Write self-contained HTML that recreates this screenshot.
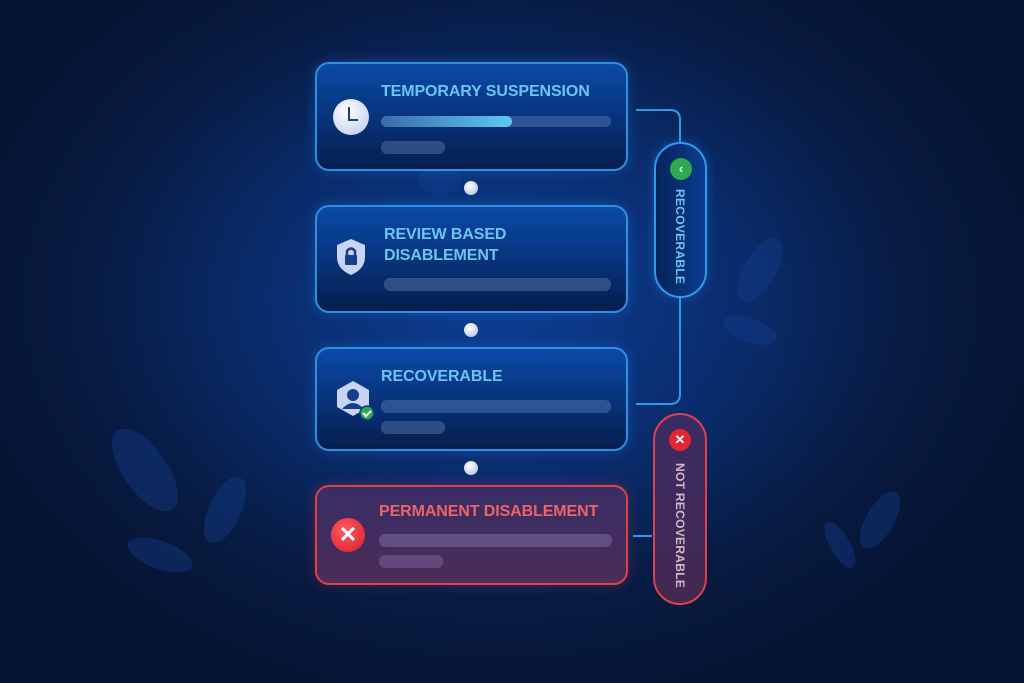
<!DOCTYPE html>
<html><head><style>
body{margin:0;width:1024px;height:683px;overflow:hidden;font-family:"Liberation Sans",sans-serif;
background:radial-gradient(ellipse 560px 420px at 500px 300px,#0d3f95 0%,#0a2b6a 45%,#071a40 75%,#061432 100%);position:relative}
.card{position:absolute;left:315px;width:313px;border:2px solid #2f8fe0;border-radius:14px;box-sizing:border-box;
background:linear-gradient(180deg,#0a4aa8 0%,#083680 45%,#061e4e 100%);box-shadow:0 0 12px rgba(40,140,255,.3)}
.t{position:absolute;color:#6cc4f4;font-weight:bold;font-size:16px;letter-spacing:-.1px;line-height:21px}
.bar{position:absolute;height:11px;border-radius:6px;background:rgba(120,150,200,.35)}
.dot{position:absolute;left:464px;width:14px;height:14px;border-radius:50%;background:radial-gradient(circle at 40% 35%,#fff,#a9b8e0)}
.pill{position:absolute;border-radius:27px;box-sizing:border-box}
.vt{position:absolute;writing-mode:vertical-rl;font-weight:bold;font-size:12px;letter-spacing:.3px}
</style></head><body>
<svg width="1024" height="683" style="position:absolute;left:0;top:0">
<g fill="#14408f" opacity=".4">
<ellipse cx="145" cy="470" rx="22" ry="48" transform="rotate(-35 145 470)"/>
<ellipse cx="225" cy="510" rx="16" ry="36" transform="rotate(25 225 510)"/>
<ellipse cx="160" cy="555" rx="14" ry="34" transform="rotate(-70 160 555)"/>
<ellipse cx="760" cy="270" rx="16" ry="36" transform="rotate(30 760 270)"/>
<ellipse cx="750" cy="330" rx="12" ry="28" transform="rotate(-70 750 330)"/>
<ellipse cx="880" cy="520" rx="14" ry="32" transform="rotate(30 880 520)"/>
<ellipse cx="840" cy="545" rx="10" ry="26" transform="rotate(-30 840 545)"/>
<ellipse cx="440" cy="180" rx="22" ry="14"/>
</g>
<path d="M636 110 H670 Q680 110 680 120 V142 M680 298 V394 Q680 404 670 404 H636" fill="none" stroke="#2f9ae8" stroke-width="2"/>
<path d="M633 536 H652" stroke="#2f9ae8" stroke-width="2"/>
</svg>

<div class="card" style="top:62px;height:109px">
 <div style="position:absolute;left:16px;top:35px;width:36px;height:36px;border-radius:50%;background:radial-gradient(circle at 40% 35%,#fff,#b8c6ee)"></div>
 <div style="position:absolute;left:31px;top:43px;width:8px;height:12px;border-left:2.5px solid #1a3d8a;border-bottom:2.5px solid #1a3d8a"></div>
 <div class="t" style="left:64px;top:17px">TEMPORARY SUSPENSION</div>
 <div class="bar" style="left:64px;top:52px;width:230px"></div>
 <div class="bar" style="left:64px;top:52px;width:131px;background:linear-gradient(90deg,#3a6ba8,#5ccaf0)"></div>
 <div class="bar" style="left:64px;top:77px;width:64px;height:13px"></div>
</div>
<div class="dot" style="top:181px"></div>
<div class="card" style="top:205px;height:108px">
 <svg style="position:absolute;left:18px;top:30px" width="32" height="40"><path d="M16 2 L30 8 V20 Q30 32 16 38 Q2 32 2 20 V8 Z" fill="#c7d4f4"/><rect x="10" y="18" width="12" height="10" rx="1" fill="#1a3d8a"/><path d="M12 18 V14 Q16 9 20 14 V18" fill="none" stroke="#1a3d8a" stroke-width="2.5"/></svg>
 <div class="t" style="left:67px;top:17px">REVIEW BASED<br>DISABLEMENT</div>
 <div class="bar" style="left:67px;top:71px;width:227px;height:13px"></div>
</div>
<div class="dot" style="top:323px"></div>
<div class="card" style="top:347px;height:104px">
 <svg style="position:absolute;left:16px;top:30px" width="44" height="44"><path d="M20 2 L36 11 V28 L20 37 L4 28 V11 Z" fill="#c7d4f4"/><circle cx="20" cy="16" r="6" fill="#1a3d8a"/><path d="M9 30 Q20 18 31 30" fill="#1a3d8a"/><circle cx="34" cy="34" r="7" fill="#2eaa4e" stroke="#0a3a8a" stroke-width="1.5"/><path d="M30 34 l3 3 l5 -5" stroke="#fff" stroke-width="2" fill="none"/></svg>
 <div class="t" style="left:64px;top:17px">RECOVERABLE</div>
 <div class="bar" style="left:64px;top:51px;width:230px;height:13px"></div>
 <div class="bar" style="left:64px;top:72px;width:64px;height:13px"></div>
</div>
<div class="dot" style="top:461px"></div>
<div class="card" style="top:485px;height:100px;border-color:#e0404a;background:linear-gradient(180deg,#3a2d66,#4a2d58);box-shadow:0 0 12px rgba(230,60,70,.3)">
 <div style="position:absolute;left:14px;top:31px;width:34px;height:34px;border-radius:50%;background:radial-gradient(circle at 40% 35%,#ff5a60,#d81e2c);color:#fff;font-weight:bold;font-size:22px;text-align:center;line-height:34px">✕</div>
 <div class="t" style="left:62px;top:14px;color:#ec6468">PERMANENT DISABLEMENT</div>
 <div class="bar" style="left:62px;top:47px;width:233px;height:13px;background:rgba(160,140,200,.35)"></div>
 <div class="bar" style="left:62px;top:68px;width:64px;height:13px;background:rgba(160,140,200,.3)"></div>
</div>

<div class="pill" style="left:654px;top:142px;width:53px;height:156px;border:2px solid #2f9ae8;background:linear-gradient(90deg,#06245c,#0a3d8f);box-shadow:0 0 10px rgba(40,140,255,.4)">
 <div style="position:absolute;left:14px;top:14px;width:22px;height:22px;border-radius:50%;background:#2eaa4e;color:#fff;font-size:13px;font-weight:bold;text-align:center;line-height:22px">‹</div>
 <div class="vt" style="left:17px;top:45px;color:#6cc4f4">RECOVERABLE</div>
</div>
<div class="pill" style="left:653px;top:413px;width:54px;height:192px;border:2px solid #e0404a;background:linear-gradient(180deg,#3a2d66,#44284f)">
 <div style="position:absolute;left:14px;top:14px;width:22px;height:22px;border-radius:50%;background:#e42634;color:#fff;font-size:13px;font-weight:bold;text-align:center;line-height:22px">✕</div>
 <div class="vt" style="left:18px;top:48px;color:#d4b8cc">NOT RECOVERABLE</div>
</div>
</body></html>
